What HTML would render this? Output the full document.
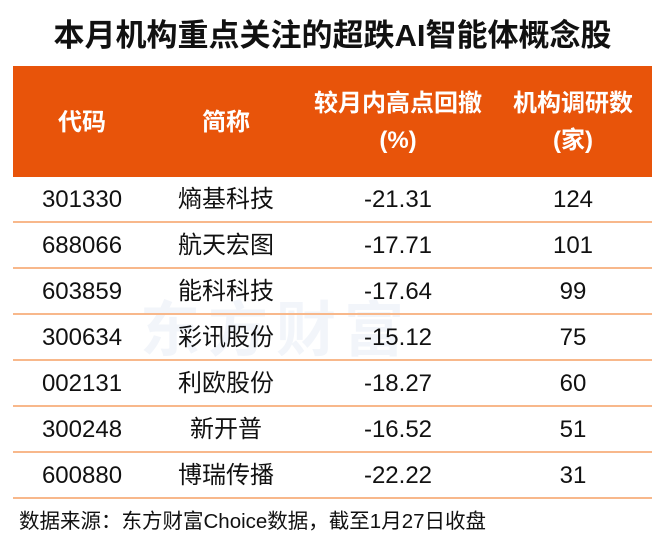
<!DOCTYPE html>
<html><head><meta charset="utf-8"><style>
body{margin:0;width:665px;height:556px;background:#fff;font-family:"Liberation Sans","Noto Sans CJK SC",sans-serif;position:relative;overflow:hidden}
.t{position:absolute;left:0;width:665px;top:15px;text-align:center;font-size:31px;font-weight:bold;color:#111;line-height:42px}
.h{position:absolute;left:13px;top:66px;width:639px;height:111px;background:#E8540A}
.c{position:absolute;text-align:center;transform:translateX(-50%);white-space:nowrap}
.hd{color:#fff;font-weight:bold;font-size:24px;line-height:37px}
.r{font-size:24px;color:#111;line-height:30px}
.l{position:absolute;left:13px;width:639px;height:1.5px;background:#F8B88B}
.f{position:absolute;left:19px;top:507px;font-size:20.5px;color:#111;line-height:30px}
.w{position:absolute;left:140px;top:282px;font-size:60px;font-weight:bold;color:#f2f5fa;letter-spacing:8px}
</style></head><body>
<div class="t">本月机构重点关注的超跌AI智能体概念股</div>
<div class="h"></div>
<div class="w">东方财富</div>
<div class="c hd" style="left:82px;top:104px">代码</div>
<div class="c hd" style="left:226px;top:104px">简称</div>
<div class="c hd" style="left:398px;top:85px">较月内高点回撤<br>(%)</div>
<div class="c hd" style="left:573px;top:85px">机构调研数<br>(家)</div>
<div class="l" style="top:221px"></div><div class="l" style="top:267px"></div><div class="l" style="top:313px"></div><div class="l" style="top:359px"></div><div class="l" style="top:405px"></div><div class="l" style="top:451px"></div><div class="l" style="top:497px"></div>
<div class="c r" style="left:82px;top:185px">301330</div><div class="c r" style="left:226px;top:185px">熵基科技</div><div class="c r" style="left:398px;top:185px">-21.31</div><div class="c r" style="left:573px;top:185px">124</div>
<div class="c r" style="left:82px;top:231px">688066</div><div class="c r" style="left:226px;top:231px">航天宏图</div><div class="c r" style="left:398px;top:231px">-17.71</div><div class="c r" style="left:573px;top:231px">101</div>
<div class="c r" style="left:82px;top:277px">603859</div><div class="c r" style="left:226px;top:277px">能科科技</div><div class="c r" style="left:398px;top:277px">-17.64</div><div class="c r" style="left:573px;top:277px">99</div>
<div class="c r" style="left:82px;top:323px">300634</div><div class="c r" style="left:226px;top:323px">彩讯股份</div><div class="c r" style="left:398px;top:323px">-15.12</div><div class="c r" style="left:573px;top:323px">75</div>
<div class="c r" style="left:82px;top:369px">002131</div><div class="c r" style="left:226px;top:369px">利欧股份</div><div class="c r" style="left:398px;top:369px">-18.27</div><div class="c r" style="left:573px;top:369px">60</div>
<div class="c r" style="left:82px;top:415px">300248</div><div class="c r" style="left:226px;top:415px">新开普</div><div class="c r" style="left:398px;top:415px">-16.52</div><div class="c r" style="left:573px;top:415px">51</div>
<div class="c r" style="left:82px;top:461px">600880</div><div class="c r" style="left:226px;top:461px">博瑞传播</div><div class="c r" style="left:398px;top:461px">-22.22</div><div class="c r" style="left:573px;top:461px">31</div>
<div class="f">数据来源：东方财富Choice数据，截至1月27日收盘</div>
</body></html>
